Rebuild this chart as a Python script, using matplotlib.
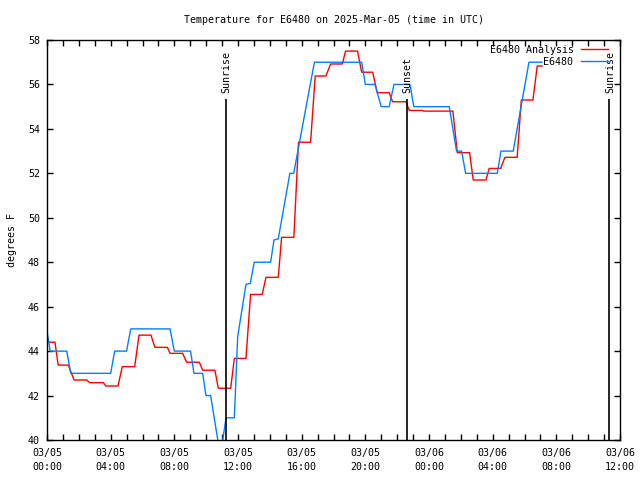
import matplotlib
matplotlib.use("Agg")
import matplotlib.pyplot as plt
import numpy as np

# ---- data (hours since 2025-03-05 00:00 UTC, degrees F) ----
obs_hours = [0.0, 0.2, 1.24, 1.49, 4.0, 4.25, 5.0, 5.26, 7.73, 8.0, 9.02, 9.23,
             9.78, 9.99, 10.28, 10.72, 10.88, 11.04, 11.25, 11.77, 11.98, 12.5,
             12.77, 13.02, 14.05, 14.26, 14.53, 15.26, 15.5, 16.8, 19.77, 20.0,
             20.6, 21.0, 21.5, 21.8, 22.8, 23.05, 25.27, 25.73, 26.05, 26.3,
             28.29, 28.52, 29.29, 30.28, 31.1]
obs_temp = [44.9, 44.0, 44.0, 43.0, 43.0, 44.0, 44.0, 45.0, 45.0, 44.0, 44.0, 43.0,
            43.0, 42.0, 42.0, 40.05, 39.6, 40.0, 41.0, 41.0, 44.65, 47.0,
            47.05, 48.0, 48.0, 49.0, 49.05, 52.0, 52.0, 57.0, 57.0, 56.0,
            56.0, 55.0, 55.0, 56.0, 56.0, 55.0, 55.0, 53.0, 53.0, 52.0,
            52.0, 53.0, 53.0, 57.0, 57.0]

ana_hours = [0.0, 0.5, 0.7, 1.34, 1.7, 2.49, 2.68, 3.54, 3.69, 4.46, 4.73, 5.51,
             5.78, 6.53, 6.78, 7.56, 7.73, 8.52, 8.77, 9.57, 9.78, 10.55, 10.76,
             11.54, 11.77, 12.5, 12.79, 13.52, 13.76, 14.53, 14.74, 15.51, 15.8,
             16.56, 16.85, 17.52, 17.82, 18.55, 18.76, 19.51, 19.77, 20.46, 20.75,
             21.5, 21.71, 22.55, 22.76, 23.6, 23.65, 25.5, 25.78, 26.55, 26.78,
             27.58, 27.78, 28.5, 28.77, 29.54, 29.8, 30.53, 30.8, 31.1]
ana_temp = [44.4, 44.4, 43.37, 43.37, 42.7, 42.7, 42.58, 42.58, 42.43, 42.43, 43.3, 43.3,
            44.72, 44.72, 44.17, 44.17, 43.9, 43.9, 43.5, 43.5, 43.14, 43.14, 42.33,
            42.33, 43.67, 43.67, 46.55, 46.55, 47.32, 47.32, 49.12, 49.12, 53.4,
            53.4, 56.38, 56.38, 56.92, 56.92, 57.5, 57.5, 56.55, 56.55, 55.63,
            55.63, 55.22, 55.22, 54.83, 54.83, 54.8, 54.8, 52.93, 52.93, 51.7,
            51.7, 52.22, 52.22, 52.72, 52.72, 55.3, 55.3, 56.83, 56.83]

event_hours = [11.24, 22.6, 35.33]
event_labels = ["Sunrise", "Sunset", "Sunrise"]

xtick_hours = [0, 4, 8, 12, 16, 20, 24, 28, 32, 36]
xtick_labels = ["03/05\n00:00", "03/05\n04:00", "03/05\n08:00", "03/05\n12:00",
                "03/05\n16:00", "03/05\n20:00", "03/06\n00:00", "03/06\n04:00",
                "03/06\n08:00", "03/06\n12:00"]
ytick_vals = [40, 42, 44, 46, 48, 50, 52, 54, 56, 58]

title = "Temperature for E6480 on 2025-Mar-05 (time in UTC)"

# ---- figure ----
plt.rcParams['font.family'] = ['DejaVu Sans Mono']
FS = 7.2

fig = plt.figure(figsize=(6.4, 4.8), dpi=100)
ax = fig.add_axes([47/640, 1-440/480, (620-47)/640, 400/480])

ax.plot(ana_hours, ana_temp, color="#ff0000", lw=1.0, label="E6480 Analysis")
ax.plot(obs_hours, obs_temp, color="#0080ff", lw=1.0, label="E6480")

line_top = 55.35
for h, lab in zip(event_hours, event_labels):
    ax.vlines(h, 40, line_top, color="black", lw=1.2)
    ax.text(h + 0.06, line_top + 0.28, lab, rotation=90, ha="center", va="bottom",
            fontsize=FS)

ax.set_xlim(0, 36)
ax.set_ylim(40, 58)
ax.set_xticks(xtick_hours)
ax.set_xticklabels(xtick_labels, fontsize=FS, linespacing=1.45)
ax.set_xticks(np.arange(0, 37, 1), minor=True)
ax.set_yticks(ytick_vals)
ax.set_yticklabels([str(v) for v in ytick_vals], fontsize=FS)
ax.tick_params(which="both", direction="in", top=True, right=True, length=4, width=1.0)
ax.tick_params(axis="x", which="major", pad=6)
ax.tick_params(axis="y", which="major", pad=5)
for s in ax.spines.values():
    s.set_linewidth(1.0)

ax.set_ylabel("degrees F", fontsize=FS, labelpad=8)
ax.set_title(title, fontsize=FS, pad=12)

leg = ax.legend(loc="upper right", bbox_to_anchor=(1 - 4/573, 1 + 3/400),
                markerfirst=False, frameon=False, fontsize=FS,
                handlelength=2.7, handletextpad=0.75, labelspacing=0.2,
                borderaxespad=0.5, borderpad=0.3)

fig.savefig("out.png", dpi=100)
